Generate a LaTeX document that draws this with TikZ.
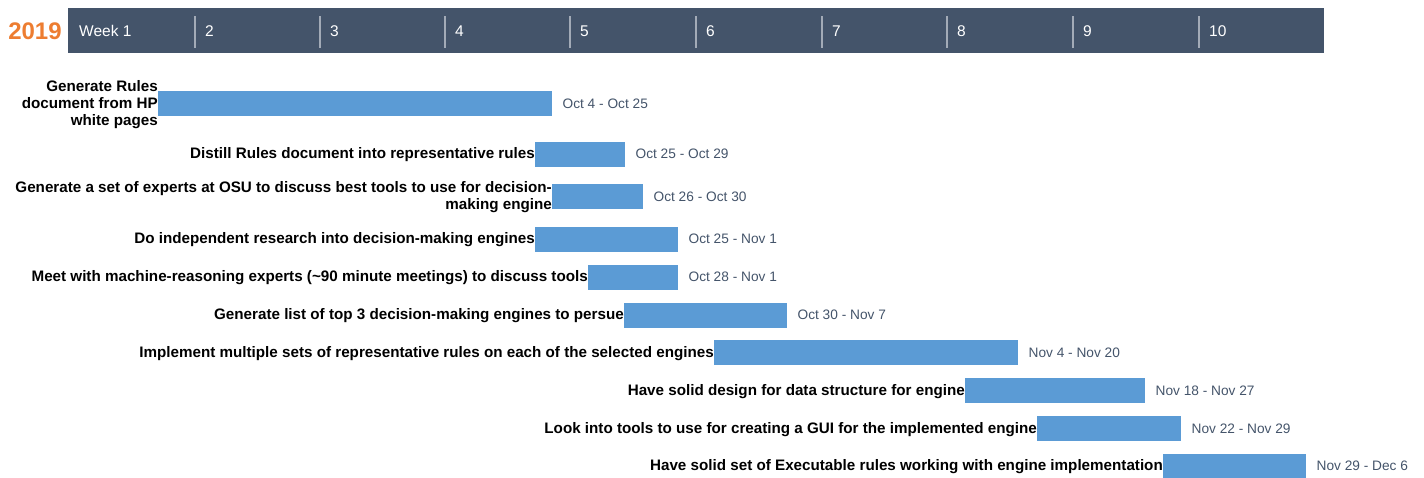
\documentclass[tikz,border=0pt]{standalone}
\usepackage{fontspec}
\setmainfont{Liberation Sans}
\usetikzlibrary{positioning}
\definecolor{slate}{HTML}{44546A}
\definecolor{barblue}{HTML}{5B9BD5}
\definecolor{yearorange}{HTML}{ED7D31}
\definecolor{divgray}{HTML}{A3ABB7}
\begin{document}
\begin{tikzpicture}[x=1pt,y=-1pt,
    task/.style={fill=barblue, draw=none, minimum height=25pt, inner sep=0pt, anchor=west},
    tasklabel/.style={font=\fontsize{15.2}{17}\selectfont\bfseries, align=right, inner sep=0pt, anchor=east},
    datelabel/.style={font=\fontsize{13.7}{16}\selectfont, text=slate, inner sep=0pt, anchor=west},
    weeklabel/.style={font=\fontsize{15.5}{18}\selectfont, text=white, inner sep=0pt, anchor=west}]
  \useasboundingbox (0,0) rectangle (1424,477);
  \fill[slate] (68,8) rectangle (1324,53);
  \node[font=\fontsize{24}{26}\selectfont\bfseries, text=yearorange, inner sep=0pt] (year) at (35,31) {2019};
  \node[weeklabel] (w1) at (79,31) {Week 1};
  \foreach \i/\x in {2/195,3/320,4/445,5/570,6/696,7/822,8/947,9/1073,10/1199} {
    \draw[divgray, line width=1.6pt] (\x,16) -- (\x,48);
    \node[weeklabel] (w\i) at (\x+10,31) {\i};
  }

  \node[task, minimum width=394pt] (bar1) at (158,103.5) {};
  \node[task, minimum width=90pt] (bar2) at (535,154) {};
  \node[task, minimum width=91pt] (bar3) at (552,196.5) {};
  \node[task, minimum width=143pt] (bar4) at (535,239) {};
  \node[task, minimum width=90pt] (bar5) at (588,277) {};
  \node[task, minimum width=163pt] (bar6) at (624,315) {};
  \node[task, minimum width=304pt] (bar7) at (714,352.5) {};
  \node[task, minimum width=180pt] (bar8) at (965,390.5) {};
  \node[task, minimum width=144pt] (bar9) at (1037,428.5) {};
  \node[task, minimum width=143pt] (bar10) at (1163,466) {};

  \node[tasklabel, left=0pt of bar1, yshift=-1pt] (lab1) {Generate Rules\\document from HP\\white pages};
  \node[tasklabel, left=0pt of bar2, yshift=-1pt] (lab2) {Distill Rules document into representative rules};
  \node[tasklabel, left=0pt of bar3, yshift=-1pt] (lab3) {Generate a set of experts at OSU to discuss best tools to use for decision-\\making engine};
  \node[tasklabel, left=0pt of bar4, yshift=-1pt] (lab4) {Do independent research into decision-making engines};
  \node[tasklabel, left=0pt of bar5, yshift=-1pt] (lab5) {Meet with machine-reasoning experts (\textasciitilde90 minute meetings) to discuss tools};
  \node[tasklabel, left=0pt of bar6, yshift=-1pt] (lab6) {Generate list of top 3 decision-making engines to persue};
  \node[tasklabel, left=0pt of bar7, yshift=-1pt] (lab7) {Implement multiple sets of representative rules on each of the selected engines};
  \node[tasklabel, left=0pt of bar8, yshift=-1pt] (lab8) {Have solid design for data structure for engine};
  \node[tasklabel, left=0pt of bar9, yshift=-1pt] (lab9) {Look into tools to use for creating a GUI for the implemented engine};
  \node[tasklabel, left=0pt of bar10, yshift=-1pt] (lab10) {Have solid set of Executable rules working with engine implementation};

  \node[datelabel, right=10pt of bar1] (date1) {Oct 4 - Oct 25};
  \node[datelabel, right=10pt of bar2] (date2) {Oct 25 - Oct 29};
  \node[datelabel, right=10pt of bar3] (date3) {Oct 26 - Oct 30};
  \node[datelabel, right=10pt of bar4] (date4) {Oct 25 - Nov 1};
  \node[datelabel, right=10pt of bar5] (date5) {Oct 28 - Nov 1};
  \node[datelabel, right=10pt of bar6] (date6) {Oct 30 - Nov 7};
  \node[datelabel, right=10pt of bar7] (date7) {Nov 4 - Nov 20};
  \node[datelabel, right=10pt of bar8] (date8) {Nov 18 - Nov 27};
  \node[datelabel, right=10pt of bar9] (date9) {Nov 22 - Nov 29};
  \node[datelabel, right=10pt of bar10] (date10) {Nov 29 - Dec 6};
\end{tikzpicture}
\end{document}
